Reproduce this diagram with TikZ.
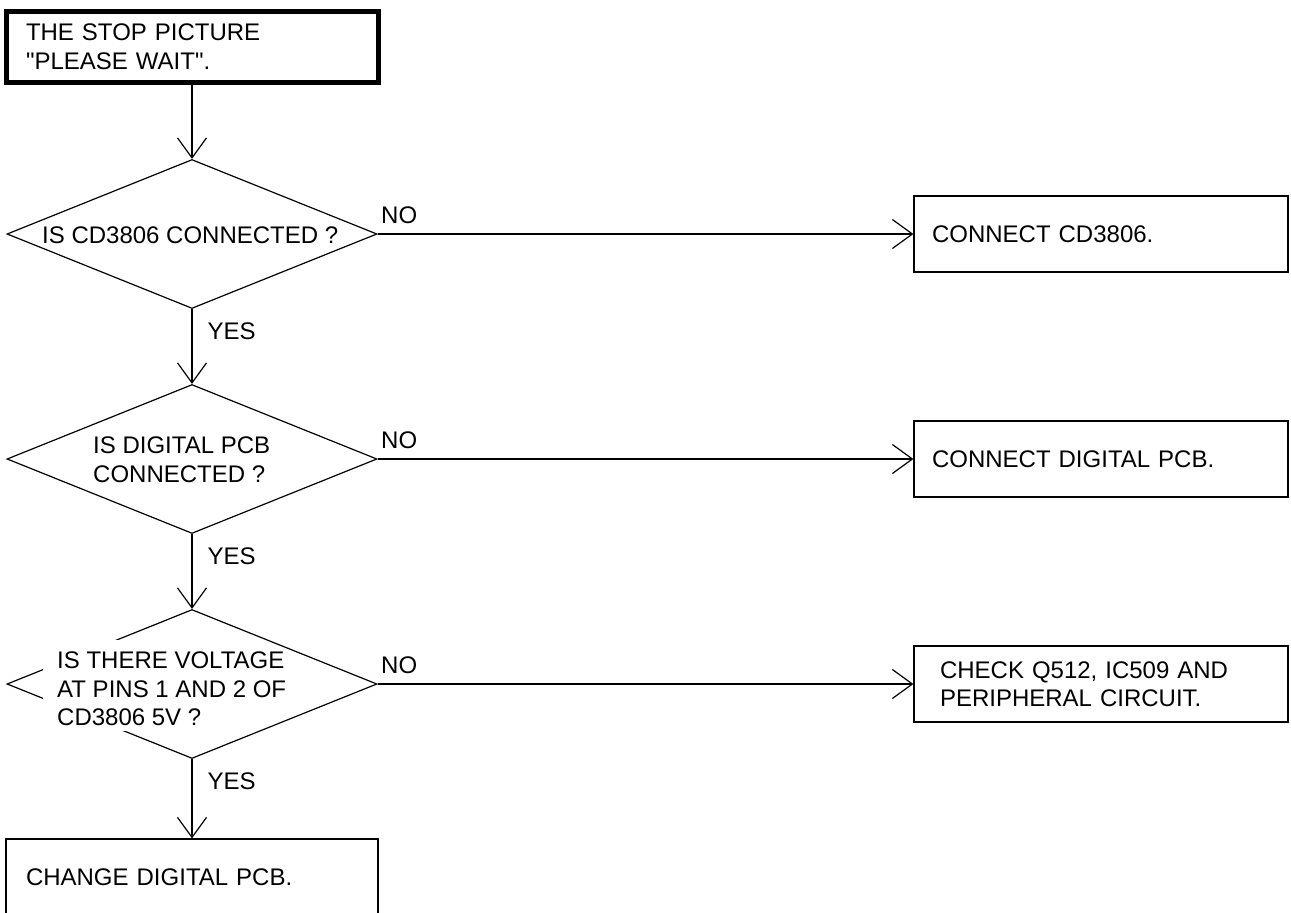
\documentclass[tikz,border=0pt]{standalone}
\usepackage{fontspec}
\setmainfont{Liberation Sans}[Ligatures=TeXOff]
\usetikzlibrary{arrows.meta,shapes.geometric}
\tikzstyle{arrow} = [line width=1.2pt,-{Straight Barb[length=20pt,width=29pt]}]
\tikzstyle{decision} = [diamond,draw,line width=1.2pt,minimum width=370pt,minimum height=149pt,inner sep=0pt]
\tikzstyle{action} = [rectangle,draw,line width=1.2pt,minimum width=374pt,minimum height=76pt,inner xsep=18pt,text width=338pt,align=left]
\tikzstyle{answer} = [inner sep=0pt]
\tikzstyle{question} = [inner sep=0pt,anchor=north west,align=left]

\begin{document}
\begin{tikzpicture}[x=1pt,y=-1pt,font=\fontsize{24pt}{28.5pt}\selectfont]
	\def \colx {192}
	\def \boxx {1101}
	\useasboundingbox (0,0) rectangle (1291,913);

	% left column
	\node (start) at (\colx,46.5) [draw,line width=5pt,minimum width=372pt,minimum height=71pt,inner xsep=20pt,text width=332pt,align=left] {THE STOP PICTURE\\"PLEASE WAIT".};
	\node (q1) at (\colx,234) [decision] {};
	\node (q2) at (\colx,459) [decision] {};
	\node (q3) at (\colx,684) [decision] {};
	\node (stop) at (\colx,877) [action,minimum width=372pt,inner xsep=20pt,text width=332pt] {CHANGE DIGITAL PCB.};

	% questions
	\node (q1text) at (42,227) [question] {IS CD3806 CONNECTED ?};
	\node (q2text) at (93,437) [question] {IS DIGITAL PCB\\CONNECTED ?};
	\fill [white] (43,640) rectangle (200,731);
	\node (q3text) at (57,652) [question] {IS THERE VOLTAGE\\AT PINS 1 AND 2 OF\\CD3806 5V ?};

	% right column
	\node (c1) at (\boxx,234) [action] {CONNECT CD3806.};
	\node (c2) at (\boxx,459) [action] {CONNECT DIGITAL PCB.};
	\node (c3) at (\boxx,684) [action,inner xsep=26pt,text width=322pt] {CHECK Q512, IC509 AND\\PERIPHERAL CIRCUIT.};

	\draw [arrow] (start.south) -- (q1.north);
	\draw [arrow] (q1.south) -- (q2.north) node [answer,pos=0,anchor=north west,xshift=15pt,yshift=-13pt] {YES};
	\draw [arrow] (q2.south) -- (q3.north) node [answer,pos=0,anchor=north west,xshift=15pt,yshift=-13pt] {YES};
	\draw [arrow] (q3.south) -- (stop.north) node [answer,pos=0,anchor=north west,xshift=15pt,yshift=-13pt] {YES};
	\draw [arrow] (q1.east) -- (c1.west) node [answer,pos=0,anchor=base west,xshift=3pt,yshift=11pt] {NO};
	\draw [arrow] (q2.east) -- (c2.west) node [answer,pos=0,anchor=base west,xshift=3pt,yshift=11pt] {NO};
	\draw [arrow] (q3.east) -- (c3.west) node [answer,pos=0,anchor=base west,xshift=3pt,yshift=11pt] {NO};
\end{tikzpicture}
\end{document}
